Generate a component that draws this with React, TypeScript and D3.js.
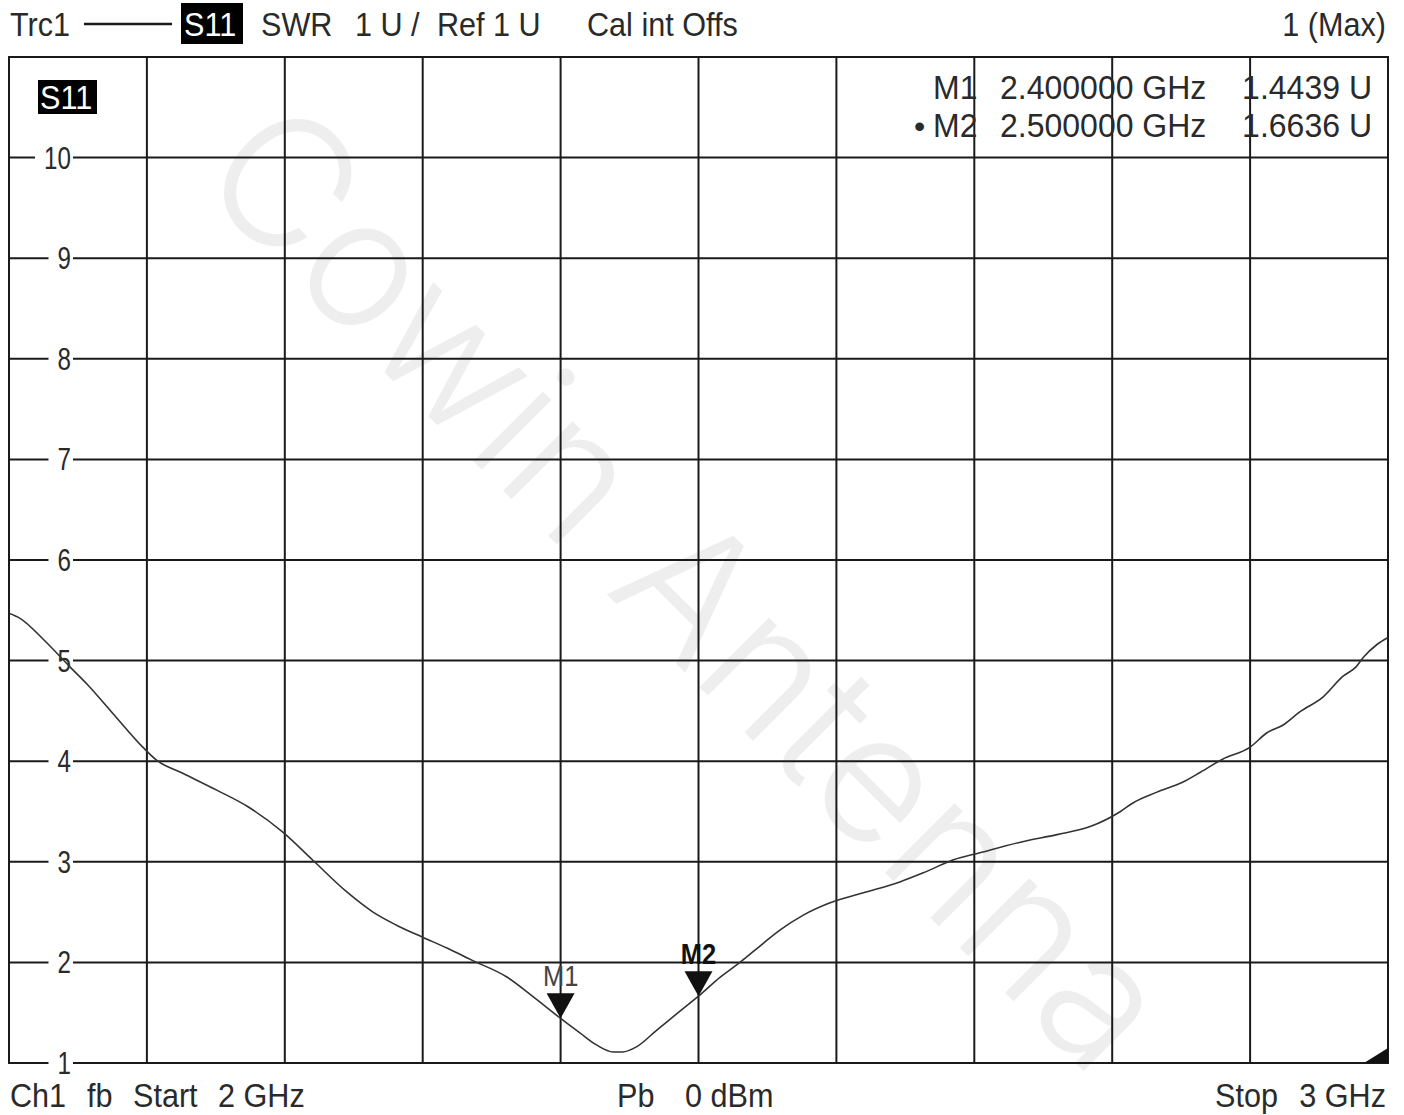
import * as d3 from "d3";

// trace data (GHz / SWR units)
const freqGHz = [
  2.0, 2.008, 2.025, 2.044, 2.057, 2.075, 2.097, 2.107, 2.126, 2.151, 2.173,
  2.199, 2.22, 2.245, 2.264, 2.281, 2.3, 2.318, 2.336, 2.361, 2.38, 2.4,
  2.414, 2.426, 2.438, 2.445, 2.455, 2.47, 2.487, 2.5, 2.516, 2.53, 2.547,
  2.559, 2.576, 2.595, 2.619, 2.646, 2.663, 2.685, 2.704, 2.735, 2.76, 2.784,
  2.806, 2.815, 2.832, 2.851, 2.864, 2.88, 2.9, 2.912, 2.924, 2.936, 2.953,
  2.967, 2.977, 2.982, 2.992, 3.0,
];
const swr = [
  5.47, 5.42, 5.21, 4.94, 4.76, 4.48, 4.14, 4.01, 3.88, 3.71, 3.55, 3.29,
  3.02, 2.7, 2.5, 2.37, 2.25, 2.14, 2.02, 1.855, 1.66, 1.444, 1.3, 1.18,
  1.11, 1.11, 1.16, 1.33, 1.52, 1.664, 1.855, 2.0, 2.19, 2.32, 2.47, 2.59,
  2.69, 2.8, 2.89, 3.02, 3.09, 3.2, 3.27, 3.35, 3.5, 3.585, 3.69, 3.79, 3.89,
  4.02, 4.14, 4.28, 4.36, 4.49, 4.64, 4.84, 4.94, 5.03, 5.16, 5.23,
];

const yTicks = [1, 2, 3, 4, 5, 6, 7, 8, 9, 10];
const xGrid = [2.1, 2.2, 2.3, 2.4, 2.5, 2.6, 2.7, 2.8, 2.9];

const markerNames = ["M1", "M2"];
const markerFreq = [2.4, 2.5];
const markerValue = [1.4439, 1.6636];
const markerFreqText = ["2.400000 GHz", "2.500000 GHz"];
const markerValueText = ["1.4439 U", "1.6636 U"];
const activeMarker = "M2";

const W = 1404;
const H = 1115;
const FONT = "'Liberation Sans', Arial, sans-serif";
const INK = "#1a1a1a";
const TXT = "#2a2a2a";

function Txt({
  x,
  y,
  size,
  sx = 1,
  anchor = "start",
  fill = TXT,
  weight = "normal",
  children,
}: {
  x: number;
  y: number;
  size: number;
  sx?: number;
  anchor?: string;
  fill?: string;
  weight?: string;
  children: any;
}) {
  return (
    <text
      transform={`translate(${x},${y}) scale(${sx},1)`}
      fontSize={size}
      fontFamily={FONT}
      fontWeight={weight}
      textAnchor={anchor}
      fill={fill}
    >
      {children}
    </text>
  );
}

export default function App() {
  const left = 9;
  const right = 1388;
  const top = 57;
  const bottom = 1063;

  const x = d3.scaleLinear().domain([2, 3]).range([left, right]);
  const y = d3.scaleLinear().domain([1, 11]).range([bottom, top]);

  const pts = freqGHz.map((f, i) => [f, swr[i]] as [number, number]);
  const line = d3
    .line<[number, number]>()
    .x((d) => x(d[0]))
    .y((d) => y(d[1]))
    .curve(d3.curveMonotoneX);

  return (
    <svg
      width={W}
      height={H}
      style={{ position: "absolute", left: 0, top: 0, background: "#fff" }}
    >
      <rect width={W} height={H} fill="#fff" />

      {/* watermark */}
      <text
        transform={`translate(690,585) rotate(45)`}
        fontSize={180}
        fontFamily="Inter, Roboto, 'Open Sans', sans-serif"
        fontWeight={300}
        textAnchor="middle"
        dominantBaseline="central"
        fill="#eeeeee"
      >
        Cowin Antenna
      </text>

      {/* grid */}
      <g stroke={INK} strokeWidth={2}>
        {xGrid.map((g) => (
          <line key={g} x1={x(g)} x2={x(g)} y1={top} y2={bottom} />
        ))}
        {yTicks
          .filter((t) => t > 1)
          .map((t) => (
            <line key={t} x1={left} x2={right} y1={y(t)} y2={y(t)} />
          ))}
        <rect
          x={left}
          y={top}
          width={right - left}
          height={bottom - top}
          fill="none"
        />
      </g>

      {/* y labels sitting in the grid lines */}
      {yTicks.map((t) => {
        const w = String(t).length * 13.5;
        return (
          <g key={t}>
            <rect x={71 - w - 9} y={y(t) - 3} width={w + 11} height={6} fill="#fff" />
            <Txt x={71} y={y(t) + 11} size={31} sx={0.78} anchor="end">
              {t}
            </Txt>
          </g>
        );
      })}

      {/* trace */}
      <path d={line(pts) ?? ""} fill="none" stroke="#333" strokeWidth={1.6} />

      {/* markers */}
      {markerNames.map((m, i) => {
        const mx = x(markerFreq[i]);
        const my = y(markerValue[i]);
        const active = m === activeMarker;
        return (
          <g key={m}>
            <path
              d={`M${mx},${my} L${mx - 14},${my - 25} L${mx + 14},${my - 25} Z`}
              fill="#111"
            />
            <Txt
              x={mx}
              y={my - 32}
              size={30}
              sx={0.85}
              anchor="middle"
              weight={active ? "bold" : "normal"}
              fill={active ? "#111" : "#444"}
            >
              {m}
            </Txt>
          </g>
        );
      })}

      {/* corner indicator */}
      <path d="M1364,1063 L1388,1063 L1388,1048 Z" fill="#111" />

      {/* header */}
      <Txt x={10} y={36} size={34} sx={0.9}>Trc1</Txt>
      <line x1={84} x2={172} y1={24} y2={24} stroke={INK} strokeWidth={2.5} />
      <rect x={181} y={3} width={62} height={41} fill="#000" />
      <Txt x={184} y={36} size={34} sx={0.9} fill="#fff">S11</Txt>
      <Txt x={261} y={36} size={34} sx={0.9}>SWR</Txt>
      <Txt x={355} y={36} size={34} sx={0.9}>1 U /</Txt>
      <Txt x={437} y={36} size={34} sx={0.9}>Ref 1 U</Txt>
      <Txt x={587} y={36} size={34} sx={0.9}>Cal int Offs</Txt>
      <Txt x={1386} y={36} size={34} sx={0.9} anchor="end">1 (Max)</Txt>

      {/* trace label in plot */}
      <rect x={38} y={80} width={59} height={34} fill="#000" />
      <Txt x={40} y={109} size={34} sx={0.9} fill="#fff">S11</Txt>

      {/* marker table */}
      {markerNames.map((m, i) => {
        const by = 99 + i * 38;
        return (
          <g key={m}>
            {m === activeMarker && (
              <Txt x={914} y={by} size={32}>•</Txt>
            )}
            <Txt x={933} y={by} size={33} sx={0.97}>{m}</Txt>
            <Txt x={1000} y={by} size={33} sx={0.97}>{markerFreqText[i]}</Txt>
            <Txt x={1372} y={by} size={33} sx={0.97} anchor="end">
              {markerValueText[i]}
            </Txt>
          </g>
        );
      })}

      {/* footer */}
      <Txt x={10} y={1107} size={34} sx={0.9}>Ch1</Txt>
      <Txt x={87} y={1107} size={34} sx={0.9}>fb</Txt>
      <Txt x={133} y={1107} size={34} sx={0.9}>Start</Txt>
      <Txt x={218} y={1107} size={34} sx={0.9}>2 GHz</Txt>
      <Txt x={617} y={1107} size={34} sx={0.9}>Pb</Txt>
      <Txt x={685} y={1107} size={34} sx={0.9}>0 dBm</Txt>
      <Txt x={1215} y={1107} size={34} sx={0.9}>Stop</Txt>
      <Txt x={1386} y={1107} size={34} sx={0.9} anchor="end">3 GHz</Txt>
    </svg>
  );
}
